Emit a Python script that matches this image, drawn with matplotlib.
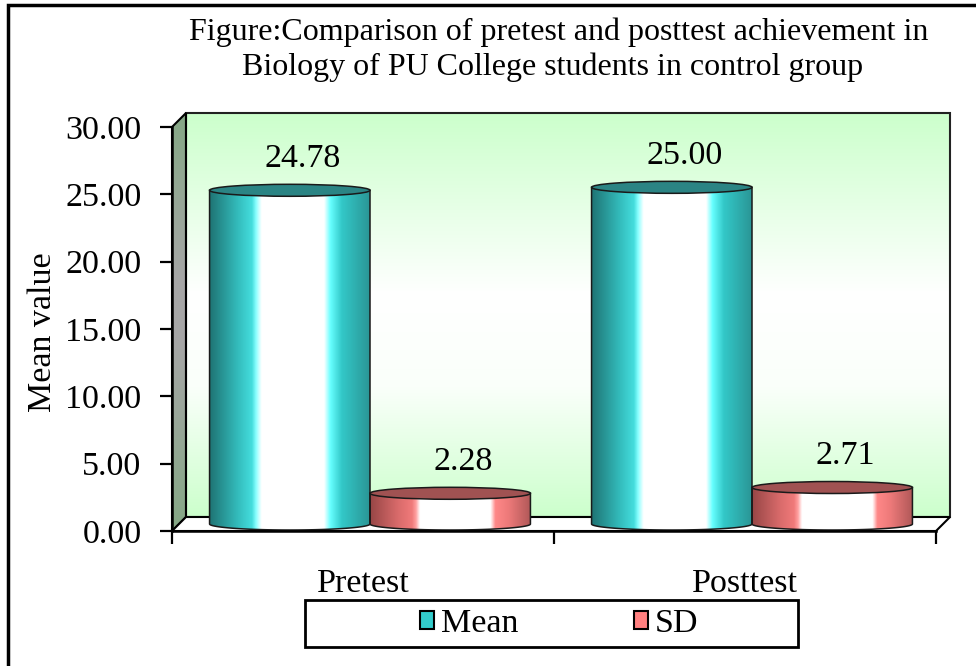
import numpy as np
import matplotlib
matplotlib.use('Agg')
import matplotlib.pyplot as plt
from matplotlib.patches import Polygon, Rectangle, Ellipse, PathPatch, Patch
from matplotlib.path import Path
from matplotlib.colors import LinearSegmentedColormap

categories = ['Pretest', 'Posttest']
series_names = ['Mean', 'SD']
mean_values = [24.78, 25.00]
sd_values = [2.28, 2.71]
y_ticks = [0, 5, 10, 15, 20, 25, 30]
title_lines = ['Figure:Comparison of pretest and posttest achievement in',
               'Biology of PU College students in control group']

plt.rcParams['font.family'] = ['Liberation Serif', 'DejaVu Serif']
FS = 24.5

W, H = 976, 666
fig = plt.figure(figsize=(W / 100, H / 100), dpi=100)
fig.patch.set_facecolor('white')
ax = fig.add_axes([172 / W, 135 / H, 764 / W, 404 / H])
ax.set_xlim(-0.5, 1.5)
ax.set_ylim(0, 30)
ax.set_autoscale_on(False)
ax.patch.set_visible(False)

# depth of the 3d box (14 px) in data units
px_x = 764 / 2.0
px_y = 404 / 30.0
dx = 14 / px_x
dy = 14 / px_y
ell_h = 12 / px_y

mean_cmap = LinearSegmentedColormap.from_list('mean', [
    (0.0, '#1f7575'), (0.17, '#33bbbb'), (0.26, '#44dddd'), (0.285, '#88ffff'),
    (0.32, '#ffffff'), (0.71, '#ffffff'), (0.75, '#66ffff'), (0.82, '#33c8c8'),
    (1.0, '#2a9494')])
sd_cmap = LinearSegmentedColormap.from_list('sd', [
    (0.0, '#974646'), (0.17, '#d86a6a'), (0.26, '#f07a7a'), (0.285, '#ffa0a0'),
    (0.31, '#ffffff'), (0.75, '#ffffff'), (0.78, '#ff8888'), (0.86, '#ee7a7a'),
    (1.0, '#b05858')])
wall_cmap = LinearSegmentedColormap.from_list('wall', [
    (0.0, '#ccffcc'), (0.32, '#fafffa'), (0.55, '#ffffff'), (1.0, '#ccffcc')])
side_cmap = LinearSegmentedColormap.from_list('side', [
    (0.0, '#85a885'), (0.45, '#a6a6a6'), (0.6, '#a6a6a6'), (1.0, '#85a885')])


def gradient(cmap, extent, clip, horizontal=True, zorder=1):
    g = np.linspace(0, 1, 256)
    img = g[None, :] if horizontal else g[:, None]
    im = ax.imshow(img, cmap=cmap, extent=extent, aspect='auto', origin='lower',
                   interpolation='bilinear', zorder=zorder)
    im.set_clip_path(clip)
    im.set_clip_box(fig.bbox)
    return im


x0, x1 = ax.get_xlim()
y0, y1 = ax.get_ylim()

# back wall
back = Polygon([(x0 + dx, y0 + dy), (x1 + dx, y0 + dy), (x1 + dx, y1 + dy), (x0 + dx, y1 + dy)],
               closed=True, facecolor='none', edgecolor='#222222', lw=1.5, zorder=2, clip_on=False)
ax.add_patch(back)
gradient(wall_cmap, [x0 + dx, x1 + dx, y0 + dy, y1 + dy], back, horizontal=False, zorder=1)

# side wall
side = Polygon([(x0, y0), (x0, y1), (x0 + dx, y1 + dy), (x0 + dx, y0 + dy)],
               closed=True, facecolor='none', edgecolor='black', lw=1.5, zorder=2, clip_on=False)
ax.add_patch(side)
gradient(side_cmap, [x0, x0 + dx, y0, y1 + dy], side, horizontal=False, zorder=1)

# floor
floor = Polygon([(x0, y0), (x1, y0), (x1 + dx, y0 + dy), (x0 + dx, y0 + dy)],
                closed=True, facecolor='white', edgecolor='black', lw=1.5, zorder=2, clip_on=False)
ax.add_patch(floor)


def cylinder(xc, w, val, cmap, top_color):
    t = np.linspace(np.pi, 2 * np.pi, 80)
    base = dy / 2
    verts = [(xc - w / 2, val + base)]
    verts += list(zip(xc + w / 2 * np.cos(t), base + ell_h / 2 * np.sin(t)))
    verts += [(xc + w / 2, val + base), (xc - w / 2, val + base)]
    codes = [Path.MOVETO] + [Path.LINETO] * (len(verts) - 2) + [Path.CLOSEPOLY]
    body = PathPatch(Path(verts, codes), facecolor='none', edgecolor='#1a1a1a',
                     lw=1.1, zorder=4, clip_on=False)
    ax.add_patch(body)
    gradient(cmap, [xc - w / 2, xc + w / 2, base - ell_h, val + base], body, zorder=3)
    top = Ellipse((xc, val + base), w, ell_h, facecolor=top_color, edgecolor='#1a1a1a',
                  lw=1.1, zorder=5, clip_on=False)
    ax.add_patch(top)
    ax.annotate(f'{val:.2f}', xy=(xc, val + base), xytext=(13 * 0.72, 32 * 0.72),
                textcoords='offset points', ha='center', va='center', fontsize=FS, zorder=6)


bar_w = 0.42
for i in range(len(categories)):
    cylinder(i - bar_w / 2 + dx / 2, bar_w, mean_values[i], mean_cmap, '#2b8484')
    cylinder(i + bar_w / 2 + dx / 2, bar_w, sd_values[i], sd_cmap, '#a05252')

# axes
for s in ['top', 'right']:
    ax.spines[s].set_visible(False)
for s in ['left', 'bottom']:
    ax.spines[s].set_linewidth(1.8)
    ax.spines[s].set_zorder(7)
ax.set_yticks(y_ticks)
ax.set_yticklabels([f'{t:.2f}' for t in y_ticks])
ax.tick_params(axis='y', direction='out', length=9, width=1.6, pad=13, labelsize=FS)
ax.set_xticks([x0, 0.5, x1])
ax.set_xticklabels([])
ax.set_xticks(range(len(categories)), minor=True)
ax.set_xticklabels(categories, minor=True)
ax.tick_params(axis='x', which='major', direction='out', length=9, width=1.6)
ax.tick_params(axis='x', which='minor', length=0, pad=27, labelsize=FS)

fig.text(43 / W, 1 - 332 / H, 'Mean value', rotation=90, ha='center', va='center', fontsize=FS)
fig.text(559 / W, 1 - 40 / H, title_lines[0], ha='center', va='baseline', fontsize=23)
fig.text(553 / W, 1 - 75 / H, title_lines[1], ha='center', va='baseline', fontsize=23)

# legend
handles = [Patch(facecolor='#33cccc', edgecolor='black', lw=1.5),
           Patch(facecolor='#ff8080', edgecolor='black', lw=1.5)]
fig.legend(handles, series_names, loc='center', bbox_to_anchor=(559 / W, 1 - 624 / H),
           ncol=2, frameon=False, fontsize=FS, handlelength=0.42, handleheight=0.42,
           handletextpad=0.2, columnspacing=3.4, borderpad=0)
fig.add_artist(Rectangle((305 / W, 1 - 647 / H), (798 - 305) / W, 47 / H, fill=False,
                         edgecolor='black', lw=2, transform=fig.transFigure))

# outer frame
fig.add_artist(Rectangle((8 / W, -0.1), 1.2, 1 - 5 / H + 0.1, fill=False,
                         edgecolor='black', lw=2.5, transform=fig.transFigure))

fig.savefig('out.png', dpi=100)
